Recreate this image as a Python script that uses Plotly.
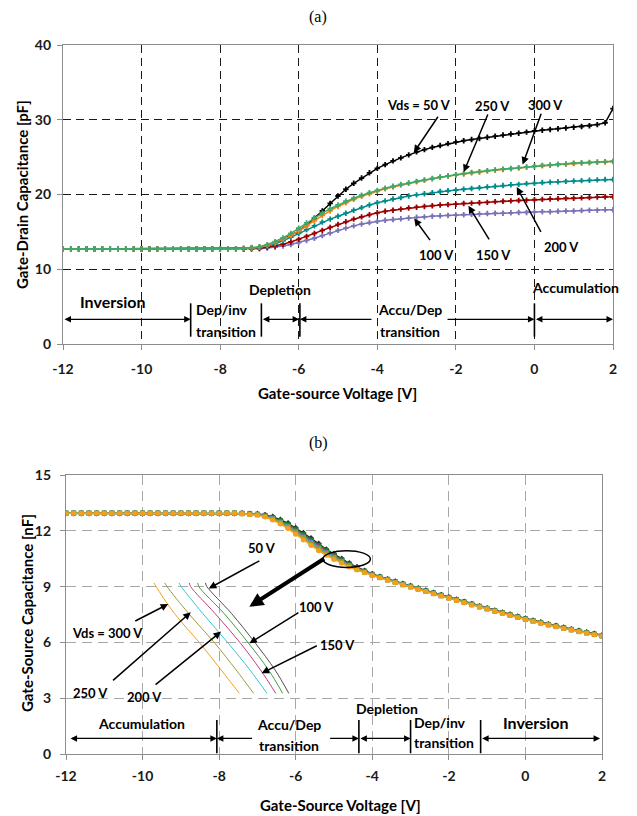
import plotly.graph_objects as go

# ---------------- shared gate-source voltage samples ----------------
vgs = [-12.0, -11.8, -11.6, -11.4, -11.2, -11.0, -10.8, -10.6, -10.4, -10.2,
       -10.0, -9.8, -9.6, -9.4, -9.2, -9.0, -8.8, -8.6, -8.4, -8.2,
       -8.0, -7.8, -7.6, -7.4, -7.2, -7.0, -6.8, -6.6, -6.4, -6.2,
       -6.0, -5.8, -5.6, -5.4, -5.2, -5.0, -4.8, -4.6, -4.4, -4.2,
       -4.0, -3.8, -3.6, -3.4, -3.2, -3.0, -2.8, -2.6, -2.4, -2.2,
       -2.0, -1.8, -1.6, -1.4, -1.2, -1.0, -0.8, -0.6, -0.4, -0.2,
       0.0, 0.2, 0.4, 0.6, 0.8, 1.0, 1.2, 1.4, 1.6, 1.8, 2.0]

# tick values / labels
x_ticks = [-12, -10, -8, -6, -4, -2, 0, 2]
x_tick_text = ["-12", "-10", "-8", "-6", "-4", "-2", "0", "2"]
ya_ticks = [0, 10, 20, 30, 40]
yb_ticks = [0, 3, 6, 9, 12, 15]

# ---------------- (a) gate-drain capacitance [pF] ----------------
flat_a = [12.7, 12.7, 12.7, 12.7, 12.7, 12.7, 12.7, 12.7, 12.7, 12.7, 12.7, 12.7,
          12.7, 12.7, 12.7, 12.7, 12.7, 12.7, 12.7, 12.7, 12.7, 12.7, 12.7]
cgd_50 = flat_a + [12.75, 12.8, 12.9, 13.1, 13.5, 14.0, 14.5, 15.1, 15.9, 16.8, 17.8, 18.8,
                   19.8, 20.7, 21.5, 22.2, 22.9, 23.5, 24.0, 24.5, 24.9, 25.3, 25.7, 26.0,
                   26.3, 26.55, 26.8, 27.0, 27.2, 27.35, 27.5, 27.65, 27.8, 27.95, 28.1, 28.2,
                   28.35, 28.5, 28.6, 28.7, 28.8, 28.9, 29.0, 29.1, 29.2, 29.35, 29.6, 31.5]
cgd_100 = flat_a + [12.7, 12.7, 12.75, 12.85, 12.95, 13.1, 13.3, 13.55, 13.85, 14.15, 14.5, 14.85,
                    15.2, 15.5, 15.8, 16.05, 16.25, 16.4, 16.55, 16.65, 16.75, 16.85, 16.95, 17.0,
                    17.1, 17.15, 17.2, 17.25, 17.3, 17.35, 17.4, 17.45, 17.5, 17.5, 17.55, 17.6,
                    17.6, 17.65, 17.7, 17.7, 17.75, 17.8, 17.8, 17.85, 17.9, 17.9, 17.95, 17.95]
cgd_150 = flat_a + [12.7, 12.75, 12.8, 12.95, 13.1, 13.35, 13.65, 14.0, 14.4, 14.8, 15.2, 15.6,
                    16.0, 16.35, 16.7, 17.0, 17.3, 17.55, 17.75, 17.9, 18.05, 18.2, 18.3, 18.4,
                    18.5, 18.6, 18.65, 18.7, 18.8, 18.85, 18.9, 18.95, 19.05, 19.1, 19.15, 19.2,
                    19.25, 19.3, 19.35, 19.4, 19.45, 19.5, 19.5, 19.55, 19.6, 19.65, 19.7, 19.7]
cgd_200 = flat_a + [12.75, 12.8, 12.9, 13.1, 13.4, 13.8, 14.3, 14.8, 15.3, 15.8, 16.3, 16.7,
                    17.1, 17.5, 17.9, 18.25, 18.6, 18.9, 19.15, 19.4, 19.6, 19.8, 19.95, 20.1,
                    20.25, 20.4, 20.5, 20.6, 20.7, 20.8, 20.9, 21.0, 21.1, 21.2, 21.3, 21.35,
                    21.45, 21.5, 21.6, 21.65, 21.7, 21.75, 21.8, 21.85, 21.9, 21.95, 22.0, 22.0]
cgd_250 = flat_a + [12.78, 12.85, 12.95, 13.2, 13.55, 14.0, 14.5, 15.1, 15.8, 16.5, 17.2, 17.8,
                    18.4, 18.9, 19.35, 19.75, 20.1, 20.45, 20.75, 21.0, 21.25, 21.5, 21.7, 21.9,
                    22.1, 22.3, 22.45, 22.6, 22.75, 22.9, 23.0, 23.15, 23.25, 23.35, 23.45, 23.55,
                    23.65, 23.75, 23.85, 23.9, 24.0, 24.05, 24.15, 24.2, 24.25, 24.3, 24.35, 24.4]
cgd_300 = flat_a + [12.8, 12.9, 13.0, 13.3, 13.7, 14.2, 14.8, 15.5, 16.2, 16.9, 17.5, 18.1,
                    18.6, 19.1, 19.5, 19.9, 20.25, 20.55, 20.85, 21.1, 21.35, 21.55, 21.75, 21.95,
                    22.15, 22.35, 22.5, 22.65, 22.8, 22.95, 23.05, 23.2, 23.3, 23.4, 23.5, 23.6,
                    23.7, 23.8, 23.9, 23.95, 24.05, 24.1, 24.2, 24.25, 24.3, 24.35, 24.4, 24.45]

# ---------------- (b) gate-source capacitance [nF] ----------------
flat_b = [12.95, 12.95, 12.95, 12.95, 12.95, 12.95, 12.95, 12.95, 12.95, 12.95, 12.95, 12.95,
          12.95, 12.95, 12.95, 12.95, 12.95, 12.95, 12.95, 12.95, 12.95, 12.95, 12.95]
cgs_50 = flat_b + [12.94, 12.92, 12.9, 12.85, 12.75, 12.6, 12.4, 12.15, 11.88, 11.6, 11.3, 11.0,
                   10.75, 10.5, 10.25, 10.05, 9.85, 9.68, 9.53, 9.4, 9.27, 9.15, 9.03, 8.91,
                   8.79, 8.67, 8.55, 8.43, 8.31, 8.19, 8.07, 7.95, 7.84, 7.72, 7.61, 7.5,
                   7.39, 7.28, 7.18, 7.08, 6.98, 6.89, 6.8, 6.71, 6.62, 6.54, 6.46, 6.38]
cgs_100 = flat_b + [12.94, 12.92, 12.89, 12.83, 12.72, 12.55, 12.34, 12.08, 11.8, 11.51, 11.22, 10.94,
                    10.69, 10.45, 10.21, 10.02, 9.83, 9.66, 9.52, 9.39, 9.26, 9.14, 9.02, 8.9,
                    8.78, 8.66, 8.54, 8.42, 8.3, 8.18, 8.06, 7.94, 7.83, 7.71, 7.6, 7.49,
                    7.38, 7.27, 7.17, 7.07, 6.97, 6.88, 6.79, 6.7, 6.61, 6.53, 6.45, 6.37]
cgs_150 = flat_b + [12.93, 12.91, 12.88, 12.81, 12.69, 12.51, 12.29, 12.02, 11.73, 11.44, 11.15, 10.88,
                    10.63, 10.4, 10.17, 9.99, 9.81, 9.65, 9.51, 9.38, 9.25, 9.13, 9.01, 8.89,
                    8.77, 8.65, 8.53, 8.41, 8.29, 8.17, 8.05, 7.93, 7.82, 7.7, 7.59, 7.48,
                    7.37, 7.26, 7.16, 7.06, 6.96, 6.87, 6.78, 6.69, 6.6, 6.52, 6.44, 6.36]
cgs_200 = flat_b + [12.93, 12.9, 12.87, 12.79, 12.66, 12.47, 12.24, 11.96, 11.66, 11.37, 11.08, 10.82,
                    10.58, 10.35, 10.13, 9.96, 9.79, 9.63, 9.5, 9.37, 9.24, 9.12, 9.0, 8.88,
                    8.76, 8.64, 8.52, 8.4, 8.28, 8.16, 8.04, 7.92, 7.81, 7.69, 7.58, 7.47,
                    7.36, 7.25, 7.15, 7.05, 6.95, 6.86, 6.77, 6.68, 6.59, 6.51, 6.43, 6.35]
cgs_250 = flat_b + [12.92, 12.89, 12.86, 12.77, 12.63, 12.43, 12.19, 11.9, 11.6, 11.3, 11.02, 10.76,
                    10.53, 10.31, 10.1, 9.93, 9.77, 9.61, 9.48, 9.35, 9.22, 9.1, 8.98, 8.86,
                    8.74, 8.62, 8.5, 8.38, 8.26, 8.14, 8.02, 7.91, 7.8, 7.68, 7.57, 7.46,
                    7.35, 7.24, 7.14, 7.04, 6.94, 6.85, 6.76, 6.67, 6.58, 6.5, 6.42, 6.34]
cgs_300 = flat_b + [12.92, 12.88, 12.85, 12.74, 12.58, 12.37, 12.12, 11.82, 11.51, 11.21, 10.93, 10.68,
                    10.46, 10.25, 10.05, 9.89, 9.74, 9.58, 9.47, 9.34, 9.21, 9.09, 8.97, 8.85,
                    8.73, 8.61, 8.49, 8.37, 8.25, 8.13, 8.01, 7.9, 7.79, 7.67, 7.56, 7.45,
                    7.34, 7.23, 7.13, 7.03, 6.93, 6.84, 6.75, 6.66, 6.57, 6.49, 6.41, 6.33]

for s in (cgd_50, cgd_100, cgd_150, cgd_200, cgd_250, cgd_300,
          cgs_50, cgs_100, cgs_150, cgs_200, cgs_250, cgs_300):
    assert len(s) == len(vgs), len(s)

# magnified sketch of the knee in (b): capacitance levels and voltages per Vds
inset_c = [9.2, 9.0, 7.56, 5.95, 4.52, 3.26]
inset_v300 = [-9.70, -9.646, -9.169, -8.50, -7.949, -7.472]
inset_v250 = [-9.42, -9.36, -8.80, -8.11, -7.557, -7.10]
inset_v200 = [-9.05, -8.99, -8.43, -7.76, -7.196, -6.75]
inset_v150 = [-8.78, -8.744, -8.11, -7.44, -6.92, -6.52]
inset_v100 = [-8.56, -8.53, -7.875, -7.23, -6.71, -6.34]
inset_v50 = [-8.36, -8.32, -7.68, -7.05, -6.54, -6.18]

# ---------------- labels ----------------
# (text, x, y) and arrow (tail x, tail y, head x, head y)
vds_a = [("Vds = 50 V", -2.94, 32.0, -2.43, 30.6, -3.07, 25.6),
         ("250 V", -1.08, 31.8, -1.17, 30.9, -1.80, 23.0),
         ("300 V", 0.29, 32.0, 0.185, 31.0, -0.30, 24.0),
         ("200 V", 0.69, 13.0, 0.185, 14.8, -0.45, 21.0),
         ("150 V", -1.03, 11.9, -1.13, 13.8, -1.68, 18.5),
         ("100 V", -2.49, 11.9, -2.63, 13.7, -3.06, 16.8)]
vds_b = [("50 V", -6.89, 11.06, -6.91, 10.43, -8.27, 8.9),
         ("100 V", -5.46, 7.92, -5.89, 7.65, -7.21, 5.95),
         ("150 V", -4.91, 5.86, -5.41, 5.86, -6.89, 4.34),
         ("Vds = 300 V", -10.92, 6.49, -10.23, 7.11, -9.33, 8.06),
         ("250 V", -11.37, 3.26, -10.81, 3.89, -8.74, 7.62),
         ("200 V", -9.96, 3.05, -9.70, 3.66, -7.95, 6.58)]

# region labels: (text, x, y, size, anchor)
regions_a = [("Inversion", -10.74, 5.66, 16, "center"),
             ("Dep/inv", -8.66, 4.55, 14, "left"),
             ("transition", -8.66, 1.65, 14, "left"),
             ("Depletion", -6.48, 7.3, 14, "center"),
             ("Accu/Dep", -3.18, 4.55, 14, "center"),
             ("transition", -3.18, 1.72, 14, "center"),
             ("Accumulation", 1.05, 7.6, 14, "center")]
regions_b = [("Accumulation", -10.02, 1.65, 14, "center"),
             ("Accu/Dep", -6.18, 1.61, 14, "center"),
             ("transition", -6.18, 0.48, 14, "center"),
             ("Depletion", -3.61, 2.42, 14, "center"),
             ("Dep/inv", -2.97, 1.67, 14, "left"),
             ("transition", -2.97, 0.6, 14, "left"),
             ("Inversion", 0.26, 1.68, 16, "center")]
# region boundary markers (x) and their vertical extent
bounds_a = [-8.75, -6.95, -5.97, 0.0]
bounds_a_y = (0.98, 5.44)
bounds_b = [-8.06, -4.35, -3.0, -1.17]
bounds_b_y = (0.04, 1.83)
# span arrows: (tail x, head x, both ends?)
spans_a_y = 3.3
spans_a = [(-12.0, -8.75, True), (-6.95, -5.99, True), (-4.11, -5.97, False),
           (-2.25, 0.0, False), (0.0, 2.0, True)]
spans_b_y = 0.84
spans_b = [(-11.92, -8.06, True), (-7.10, -8.06, False), (-5.14, -4.35, False),
           (-4.35, -3.0, True), (-1.17, 1.95, True)]

FONT = "Lato, 'Open Sans', sans-serif"

# page is shown with the browser's 8 px body margin; size the figure to the visible area
W, H, OFF = 629, 808, 8


def px_x(p):
    return (p - OFF) / W


def px_y(p):
    return 1 - (p - OFF) / H


fig = go.Figure()

series_a = [(cgd_50, "#000000"), (cgd_100, "#7a72b6"), (cgd_150, "#990000"),
            (cgd_200, "#008b8b"), (cgd_250, "#ff7f0e"), (cgd_300, "#3daa6c")]
for vals, col in series_a:
    fig.add_trace(go.Scatter(x=vgs, y=vals, mode="lines+markers", xaxis="x", yaxis="y",
                             line=dict(color=col, width=1.5),
                             marker=dict(symbol="cross", size=4.5, color=col),
                             showlegend=False, hoverinfo="skip"))

series_b = [(cgs_50, "#2b2b2b", "diamond"), (cgs_100, "#1f7a2e", "square"),
            (cgs_150, "#c0468a", "triangle-up"), (cgs_200, "#26b3c6", "x"),
            (cgs_250, "#9a9a3a", "square"), (cgs_300, "#f5a01a", "circle")]
for vals, col, sym in series_b:
    fig.add_trace(go.Scatter(x=vgs, y=vals, mode="lines+markers", xaxis="x2", yaxis="y2",
                             line=dict(color=col, width=1.5),
                             marker=dict(symbol=sym, size=5, color=col),
                             showlegend=False, hoverinfo="skip"))

inset = [(inset_v300, "#f5a01a"), (inset_v250, "#9c9c3c"), (inset_v200, "#2cc8d8"),
         (inset_v150, "#c0407a"), (inset_v100, "#3ea040"), (inset_v50, "#505050")]
for xs, col in inset:
    fig.add_trace(go.Scatter(x=xs, y=inset_c, mode="lines", xaxis="x2", yaxis="y2",
                             line=dict(color=col, width=1, shape="spline"),
                             showlegend=False, hoverinfo="skip"))

ann = []
shapes = []


def add_vds(items, xr, yr):
    for t, tx, ty, ax0, ay0, hx, hy in items:
        ann.append(dict(x=hx, y=hy, ax=ax0, ay=ay0, xref=xr, yref=yr, axref=xr, ayref=yr,
                        text="", showarrow=True, arrowhead=2, arrowsize=1, arrowwidth=1.5,
                        arrowcolor="black", standoff=0, startstandoff=0))
        ann.append(dict(x=tx, y=ty, xref=xr, yref=yr, text="<b>" + t + "</b>", showarrow=False,
                        xanchor="center", yanchor="middle",
                        font=dict(family=FONT, size=13, color="black")))


def add_regions(items, xr, yr):
    for t, tx, ty, sz, anc in items:
        ann.append(dict(x=tx, y=ty, xref=xr, yref=yr, text="<b>" + t + "</b>", showarrow=False,
                        xanchor=anc, yanchor="middle",
                        font=dict(family=FONT, size=sz, color="black")))


def add_spans(items, y, xr, yr):
    for tail, head, both in items:
        ann.append(dict(x=head, y=y, ax=tail, ay=y, xref=xr, yref=yr, axref=xr, ayref=yr,
                        text="", showarrow=True, arrowhead=2, startarrowhead=2,
                        arrowsize=1, startarrowsize=1, arrowwidth=1.3, arrowcolor="black",
                        arrowside="end+start" if both else "end", standoff=0, startstandoff=0))


def add_bounds(xs, yext, xr, yr):
    for bx in xs:
        shapes.append(dict(type="line", xref=xr, yref=yr, x0=bx, x1=bx, y0=yext[0], y1=yext[1],
                           line=dict(color="black", width=1.6)))


add_spans(spans_a, spans_a_y, "x", "y")
add_spans(spans_b, spans_b_y, "x2", "y2")
add_bounds(bounds_a, bounds_a_y, "x", "y")
add_bounds(bounds_b, bounds_b_y, "x2", "y2")
add_vds(vds_a, "x", "y")
add_vds(vds_b, "x2", "y2")
add_regions(regions_a, "x", "y")
add_regions(regions_b, "x2", "y2")

# highlight ellipse and direction arrow in (b)
shapes.append(dict(type="circle", xref="x2", yref="y2", x0=-5.29, x1=-4.05, y0=10.03, y1=10.93,
                   line=dict(color="black", width=1.5)))
ann.append(dict(x=-7.21, y=7.92, ax=-5.22, ay=10.55, xref="x2", yref="y2", axref="x2", ayref="y2",
                text="", showarrow=True, arrowhead=2, arrowsize=0.7, arrowwidth=4,
                arrowcolor="black", standoff=0, startstandoff=0))

SERIF = "Liberation Serif, Times New Roman, serif"
# titles: (text, page-pixel x, page-pixel y, angle, family, size)
titles = [("(a)", 318, 17, 0, SERIF, 16),
          ("(b)", 318, 443, 0, SERIF, 16),
          ("<b>Gate-source Voltage [V]</b>", 337, 393, 0, FONT, 15),
          ("<b>Gate-Source Voltage [V]</b>", 340, 805, 0, FONT, 15),
          ("<b>Gate-Drain Capacitance [pF]</b>", 22, 195, -90, FONT, 15),
          ("<b>Gate-Source Capacitance [nF]</b>", 27, 613, -90, FONT, 15)]
for t, tx, ty, ang, fam, sz in titles:
    ann.append(dict(x=px_x(tx), y=px_y(ty), xref="paper", yref="paper", text=t, showarrow=False,
                    xanchor="center", yanchor="middle", textangle=ang,
                    font=dict(family=fam, size=sz, color="black")))

tickfont = dict(family=FONT, size=14, color="#1a1a1a", weight="bold")
common = dict(showline=True, mirror=True, linecolor="#8c8c8c", linewidth=1.3, zeroline=False,
              ticks="outside", ticklen=5, tickcolor="#8c8c8c", tickfont=tickfont, showgrid=True,
              automargin=False)

fig.update_layout(
    width=W, height=H, autosize=False,
    margin=dict(l=0, r=0, t=0, b=0),
    paper_bgcolor="white", plot_bgcolor="white",
    showlegend=False,
    xaxis=dict(domain=[px_x(63), px_x(613)], range=[-12, 2], tickmode="array", tickvals=x_ticks,
               ticktext=x_tick_text, anchor="y",
               gridcolor="#1a1a1a", griddash="8px,5px", gridwidth=1, ticklabelstandoff=7, **common),
    yaxis=dict(domain=[px_y(344), px_y(45)], range=[0, 40], tickmode="array", tickvals=ya_ticks,
               ticktext=[str(v) for v in ya_ticks], anchor="x",
               gridcolor="#1a1a1a", griddash="8px,5px", gridwidth=1, ticklabelstandoff=3, **common),
    xaxis2=dict(domain=[px_x(66), px_x(602)], range=[-12, 2], tickmode="array", tickvals=x_ticks,
                ticktext=x_tick_text, anchor="y2",
                gridcolor="#a8a8a8", griddash="10px,6px", gridwidth=1.3, ticklabelstandoff=4, **common),
    yaxis2=dict(domain=[px_y(754), px_y(475)], range=[0, 15], tickmode="array", tickvals=yb_ticks,
                ticktext=[str(v) for v in yb_ticks], anchor="x2",
                gridcolor="#a8a8a8", griddash="10px,6px", gridwidth=1.3, ticklabelstandoff=6, **common),
    annotations=ann,
    shapes=shapes,
)

fig.write_html("out.html")
